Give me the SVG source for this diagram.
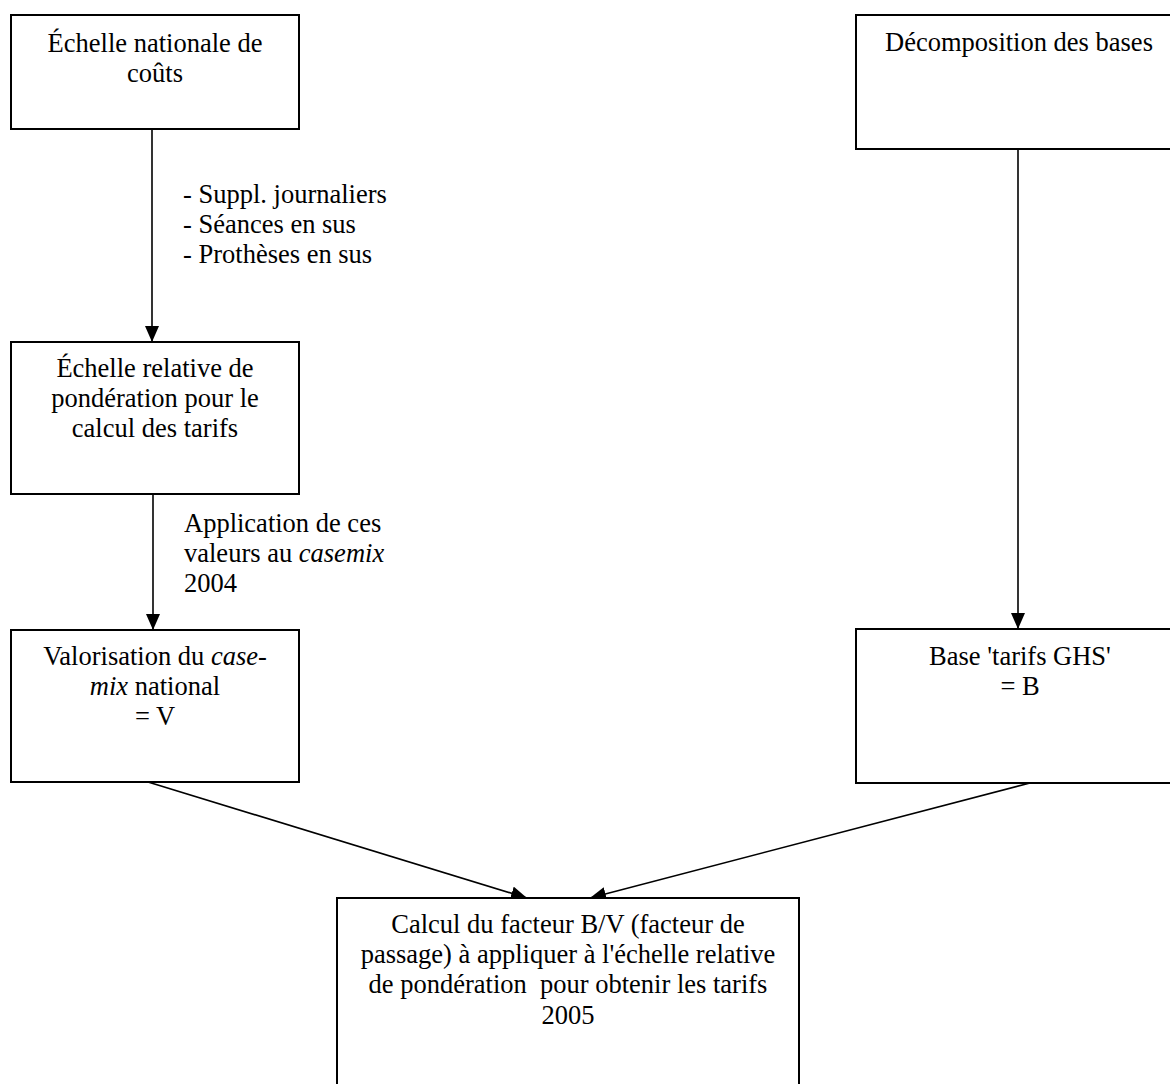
<svg xmlns="http://www.w3.org/2000/svg" width="1170" height="1084" viewBox="0 0 1170 1084">
<style>
.box{fill:#fff;stroke:#000;stroke-width:2}
.t{font-family:"Liberation Serif","Times New Roman",serif;font-size:26.5px;fill:#000}
.c{text-anchor:middle}
.edge{stroke:#000;stroke-width:1.6;fill:none}
</style>
<defs>
<marker id="ah" markerUnits="userSpaceOnUse" markerWidth="16" markerHeight="14" refX="16" refY="7" orient="auto">
<path d="M0,0 L16,7 L0,14 Z" fill="#000"/>
</marker>
</defs>
<rect width="1170" height="1084" fill="#fff"/>
<g id="connectors">
<line class="edge" x1="152" y1="129" x2="152" y2="342" marker-end="url(#ah)"/>
<line class="edge" x1="153" y1="494" x2="153" y2="630" marker-end="url(#ah)"/>
<line class="edge" x1="1018" y1="149" x2="1018" y2="629" marker-end="url(#ah)"/>
<line class="edge" x1="148" y1="782" x2="527" y2="898" marker-end="url(#ah)"/>
<line class="edge" x1="1030" y1="783" x2="590" y2="898" marker-end="url(#ah)"/>
<text class="t" x="183" y="203">- Suppl. journaliers</text>
<text class="t" x="183" y="233">- Séances en sus</text>
<text class="t" x="183" y="263">- Prothèses en sus</text>
<text class="t" x="184" y="532">Application de ces</text>
<text class="t" x="184" y="562">valeurs au <tspan font-style="italic">casemix</tspan></text>
<text class="t" x="184" y="592">2004</text>
</g>
<g id="echelle-nationale">
<rect class="box" x="11" y="15" width="288" height="114"/>
<text class="t c" x="155" y="52">Échelle nationale de</text>
<text class="t c" x="155" y="82">coûts</text>
</g>
<g id="decomposition">
<rect class="box" x="856" y="15" width="400" height="134"/>
<text class="t c" x="1019" y="51">Décomposition des bases</text>
</g>
<g id="echelle-relative">
<rect class="box" x="11" y="342" width="288" height="152"/>
<text class="t c" x="155" y="377">Échelle relative de</text>
<text class="t c" x="155" y="407">pondération pour le</text>
<text class="t c" x="155" y="437">calcul des tarifs</text>
</g>
<g id="valorisation">
<rect class="box" x="11" y="630" width="288" height="152"/>
<text class="t c" x="155" y="665">Valorisation du <tspan font-style="italic">case-</tspan></text>
<text class="t c" x="155" y="695"><tspan font-style="italic">mix</tspan> national</text>
<text class="t c" x="155" y="725">= V</text>
</g>
<g id="base-tarifs">
<rect class="box" x="856" y="629" width="400" height="154"/>
<text class="t c" x="1020" y="665">Base 'tarifs GHS'</text>
<text class="t c" x="1020" y="695">= B</text>
</g>
<g id="calcul-facteur">
<rect class="box" x="337" y="898" width="462" height="220"/>
<text class="t c" x="568" y="933">Calcul du facteur B/V (facteur de</text>
<text class="t c" x="568" y="963">passage) à appliquer à l'échelle relative</text>
<text class="t c" x="568" y="993" xml:space="preserve">de pondération  pour obtenir les tarifs</text>
<text class="t c" x="568" y="1024">2005</text>
</g>
</svg>
